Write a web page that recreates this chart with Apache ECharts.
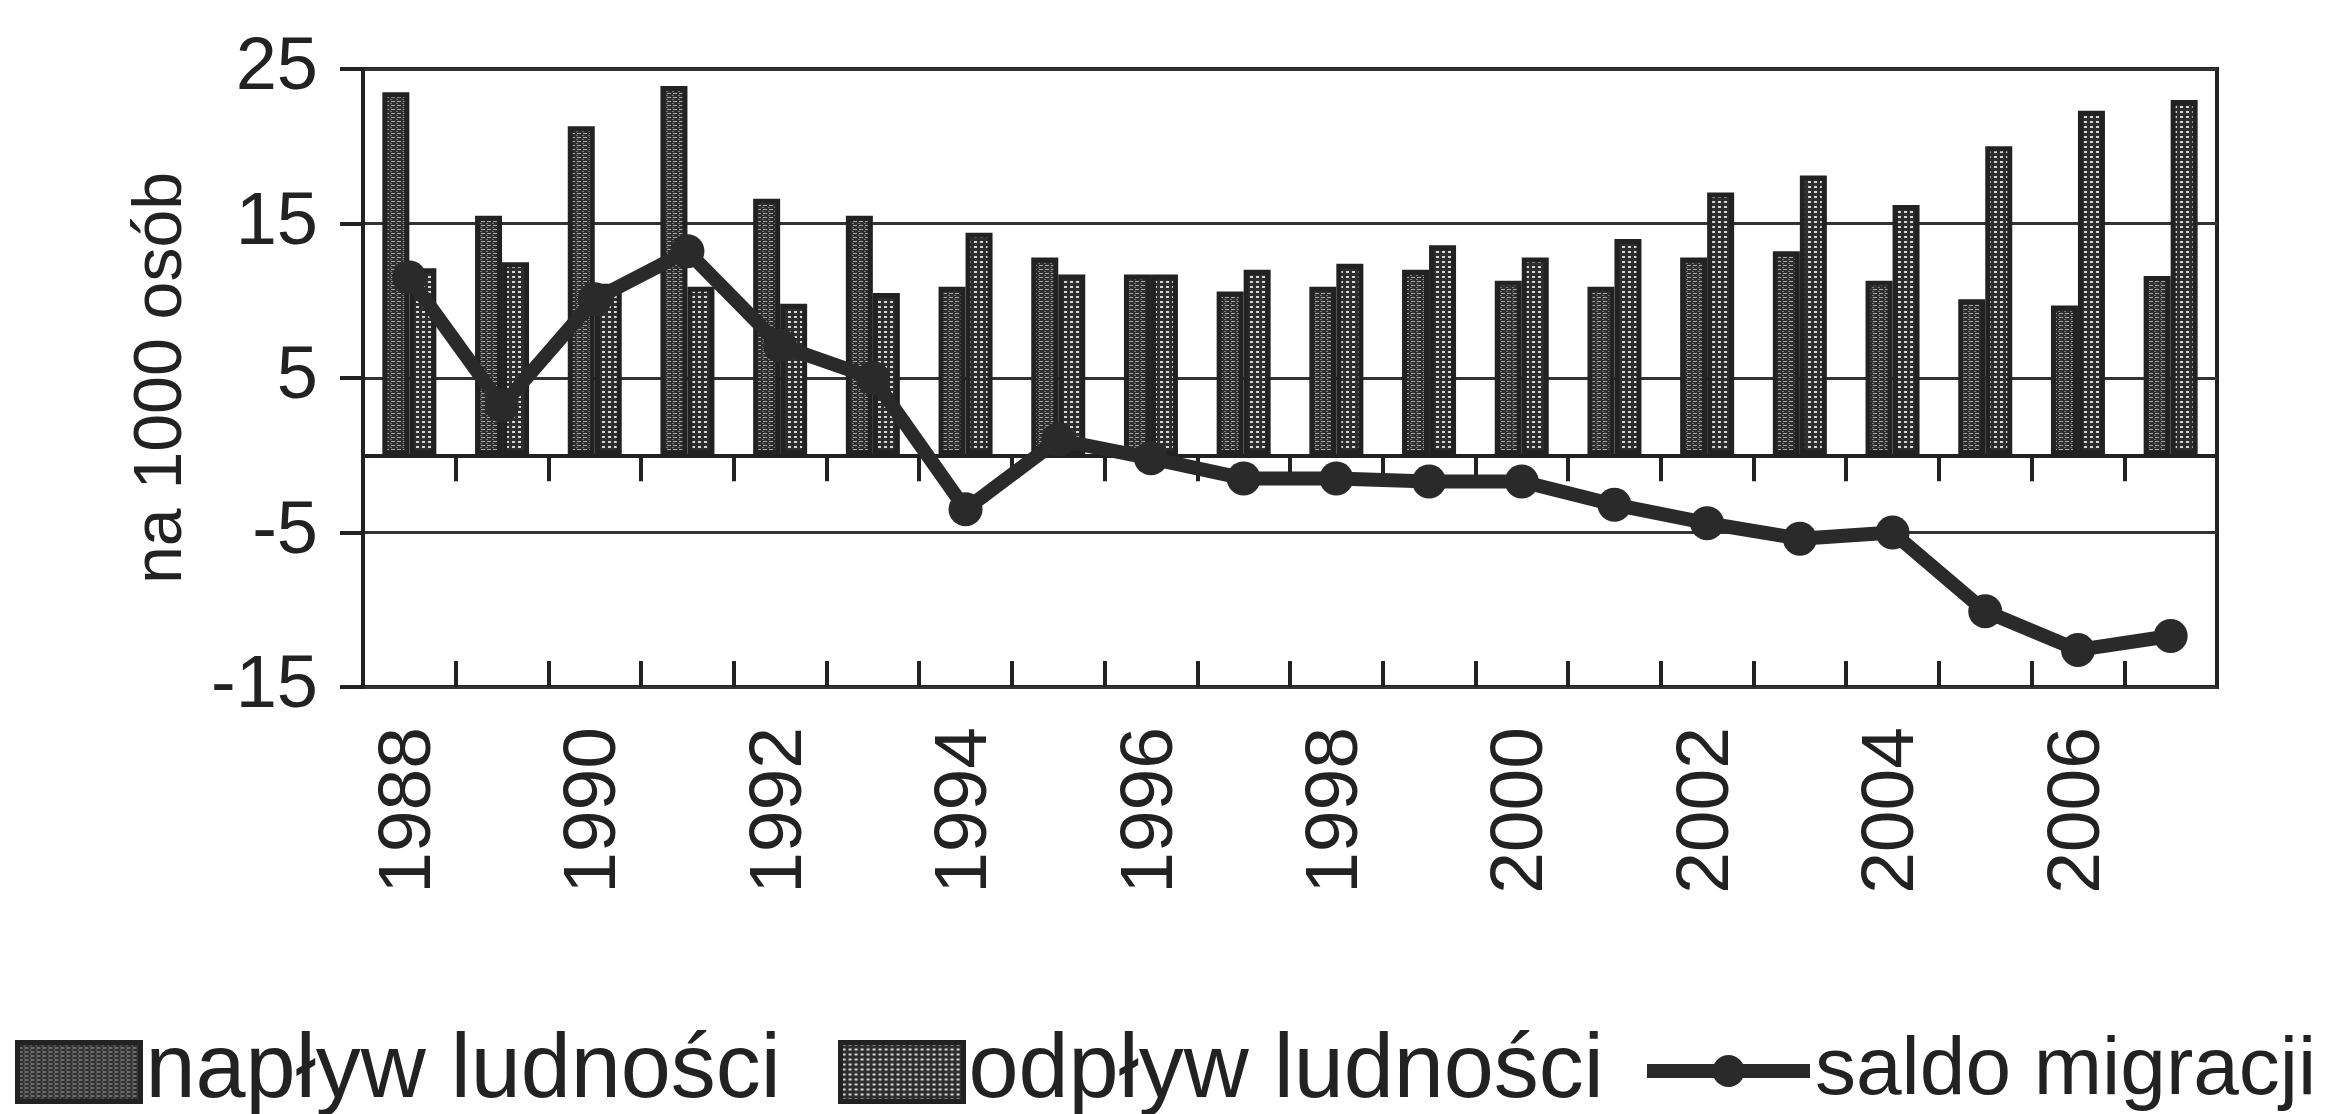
<!DOCTYPE html>
<html><head><meta charset="utf-8">
<script src="https://cdn.jsdelivr.net/npm/echarts@6/dist/echarts.min.js"></script>
<style>html,body{margin:0;padding:0;background:#fff}#c{width:2327px;height:1114px}</style>
</head><body><div id="c"></div>
<script>
const years = ['1988','1989','1990','1991','1992','1993','1994','1995','1996','1997','1998','1999','2000','2001','2002','2003','2004','2005','2006','2007'];
const naplyw = [23.5, 15.5, 21.3, 23.9, 16.6, 15.5, 10.9, 12.8, 11.7, 10.6, 10.9, 12.0, 11.3, 10.9, 12.8, 13.2, 11.3, 10.1, 9.7, 11.6];
const odplyw = [12.1, 12.5, 11.1, 10.9, 9.8, 10.5, 14.4, 11.7, 11.7, 12.0, 12.4, 13.6, 12.8, 14.0, 17.0, 18.1, 16.2, 20.0, 22.3, 23.0];
const saldo = [11.5, 3.2, 10.1, 13.2, 7.1, 5.0, -3.5, 1.0, -0.2, -1.5, -1.5, -1.7, -1.7, -3.2, -4.4, -5.4, -5.0, -10.1, -12.6, -11.7];
const yTicks = [-15, -5, 5, 15, 25];
const seriesNames = ['napływ ludności', 'odpływ ludności', 'saldo migracji'];
const yName = 'na 1000 osób';

function makePattern(kind) {
  const c = document.createElement('canvas');
  const ctx = c.getContext('2d');
  if (kind === 'h') {
    c.width = 6; c.height = 4;
    ctx.fillStyle = '#2e2e2e'; ctx.fillRect(0, 0, 6, 4);
    ctx.fillStyle = '#a8a8a8'; ctx.fillRect(1, 1, 4, 1);
    ctx.fillStyle = '#777777'; ctx.fillRect(0, 3, 2, 1);
  } else {
    c.width = 6; c.height = 5;
    ctx.fillStyle = '#2e2e2e'; ctx.fillRect(0, 0, 6, 5);
    ctx.fillStyle = '#d6d6d6'; ctx.fillRect(2, 1, 3, 2);
  }
  return { image: c, repeat: 'repeat' };
}

const FONT = '"Liberation Sans", Arial, sans-serif';
const INK = '#222';
const chart = echarts.init(document.getElementById('c'), null, { renderer: 'canvas' });
const legendText = { fontSize: 90, fontFamily: FONT, color: INK };

chart.setOption({
  animation: false,
  backgroundColor: '#fff',
  grid: { left: 363, right: 110, top: 69, bottom: 427, show: true, borderColor: INK, borderWidth: 4, outerBoundsMode: 'none' },
  legend: [
    { data: [{ name: seriesNames[0], icon: 'rect' }], left: 15, top: 1027, padding: 0, itemWidth: 123, itemHeight: 59, textStyle: legendText, itemStyle: { borderWidth: 5, borderColor: INK } },
    { data: [{ name: seriesNames[1], icon: 'rect' }], left: 838, top: 1027, padding: 0, itemWidth: 123, itemHeight: 59, textStyle: legendText, itemStyle: { borderWidth: 5, borderColor: INK } },
    { data: [seriesNames[2]], left: 1640, top: 1030, padding: 0, itemWidth: 163, itemHeight: 40, textStyle: Object.assign({}, legendText, { fontSize: 82 }), lineStyle: { width: 14 } }
  ],
  xAxis: [
    { type: 'category', data: years, position: 'bottom', axisLine: { onZero: true, lineStyle: { color: INK, width: 4 } },
      axisTick: { show: true, inside: false, length: 26, lineStyle: { color: INK, width: 4 } }, axisLabel: { show: false }, splitLine: { show: false } },
    { type: 'category', data: years, position: 'bottom', axisLine: { onZero: true, show: false },
      axisTick: { show: true, inside: true, length: 26, lineStyle: { color: INK, width: 4 } }, axisLabel: { show: false }, splitLine: { show: false } },
    { type: 'category', data: years, position: 'bottom', axisLine: { onZero: false, show: false }, axisTick: { show: false },
      axisLabel: { show: true, rotate: 90, interval: 1, margin: 40, fontSize: 75, fontFamily: FONT, color: INK } }
  ],
  yAxis: {
    type: 'value', min: -15, max: 25,
    name: yName, nameLocation: 'middle', nameGap: 167, nameRotate: 90,
    nameTextStyle: { fontSize: 68, fontFamily: FONT, color: INK },
    axisLine: { show: true, lineStyle: { color: INK, width: 4 } },
    axisTick: { show: true, length: 23, customValues: yTicks, lineStyle: { color: INK, width: 4 } },
    axisLabel: { customValues: yTicks, margin: 45, fontSize: 74, fontFamily: FONT, color: INK },
    splitLine: { show: true, lineStyle: { color: '#333', width: 3 } }
  },
  series: [
    { name: seriesNames[0], type: 'bar', data: naplyw, barWidth: 27, barGap: '0%',
      itemStyle: { color: makePattern('h'), borderColor: INK, borderWidth: 5 } },
    { name: seriesNames[1], type: 'bar', data: odplyw, barWidth: 27, barGap: '0%',
      itemStyle: { color: makePattern('g'), borderColor: INK, borderWidth: 5 } },
    { name: seriesNames[2], type: 'line', data: saldo, z: 5, symbol: 'circle', symbolSize: 34,
      itemStyle: { color: '#2a2a2a' }, lineStyle: { color: '#2a2a2a', width: 14 } }
  ]
});
</script>
</body></html>
